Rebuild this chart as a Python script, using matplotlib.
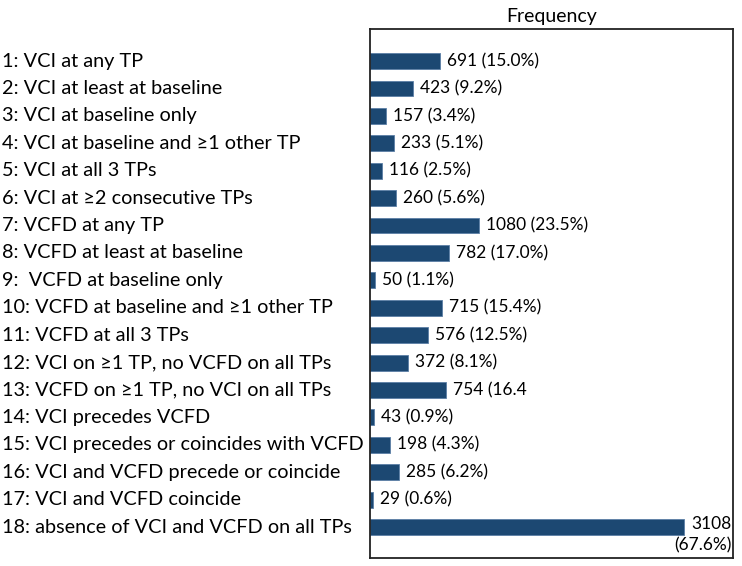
import matplotlib.pyplot as plt
import matplotlib.transforms as mtransforms

labels = [
    "1: VCI at any TP",
    "2: VCI at least at baseline",
    "3: VCI at baseline only",
    "4: VCI at baseline and \u22651 other TP",
    "5: VCI at all 3 TPs",
    "6: VCI at \u22652 consecutive TPs",
    "7: VCFD at any TP",
    "8: VCFD at least at baseline",
    "9:  VCFD at baseline only",
    "10: VCFD at baseline and \u22651 other TP",
    "11: VCFD at all 3 TPs",
    "12: VCI on \u22651 TP, no VCFD on all TPs",
    "13: VCFD on \u22651 TP, no VCI on all TPs",
    "14: VCI precedes VCFD",
    "15: VCI precedes or coincides with VCFD",
    "16: VCI and VCFD precede or coincide",
    "17: VCI and VCFD coincide",
    "18: absence of VCI and VCFD on all TPs",
]
counts = [691, 423, 157, 233, 116, 260, 1080, 782, 50, 715, 576, 372, 754, 43, 198, 285, 29, 3108]
pct_text = ["(15.0%)", "(9.2%)", "(3.4%)", "(5.1%)", "(2.5%)", "(5.6%)", "(23.5%)", "(17.0%)", "(1.1%)",
            "(15.4%)", "(12.5%)", "(8.1%)", "(16.4", "(0.9%)", "(4.3%)", "(6.2%)", "(0.6%)", "(67.6%)"]

plt.rcParams['font.family'] = ['Lato', 'DejaVu Sans']
fs = 14.3
fs_val = 12.5

fig = plt.figure(figsize=(7.42, 5.66), dpi=100)
ax = fig.add_axes([370 / 742, 1 - 558 / 566, 363 / 742, 529 / 566])

y = list(range(len(labels)))
ax.barh(y, counts, height=0.58, color='#1c4872', edgecolor='#5b7fa6', linewidth=0.6)
ax.set_xlim(0, 3590)
ax.set_ylim(len(labels) - 1 + 1.13, -1.17)
ax.set_xticks([])
ax.set_yticks([])
for s in ax.spines.values():
    s.set_linewidth(1.3)
    s.set_color('#222222')

ax.set_title("Frequency", fontsize=14, pad=5)

trans = mtransforms.blended_transform_factory(fig.transFigure, ax.transData)
for i, lab in enumerate(labels):
    ax.text(0.003, i, lab, transform=trans, ha='left', va='center', fontsize=fs, clip_on=False)

for i, (c, p) in enumerate(zip(counts, pct_text)):
    if i == len(counts) - 1:
        ax.text(0.997, i - 0.4, f"{c}\n{p}",
                transform=mtransforms.blended_transform_factory(ax.transAxes, ax.transData),
                ha='right', va='top', multialignment='right', fontsize=fs_val, linespacing=1.4)
    else:
        ax.text(c + 70, i, f"{c} {p}", ha='left', va='center', fontsize=fs_val)

fig.savefig("out.png", dpi=100)
